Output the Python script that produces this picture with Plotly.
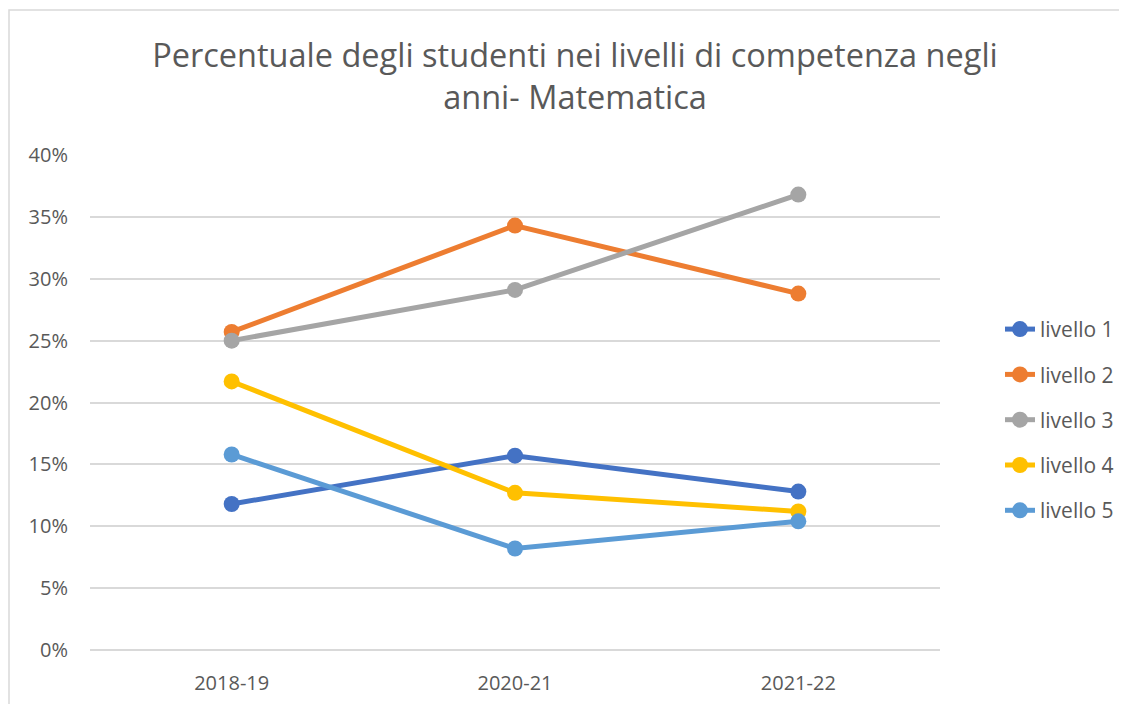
import plotly.graph_objects as go

categories = ["2018-19", "2020-21", "2021-22"]
series_names = ["livello 1", "livello 2", "livello 3", "livello 4", "livello 5"]
livello_1 = [0.118, 0.157, 0.128]
livello_2 = [0.257, 0.343, 0.288]
livello_3 = [0.250, 0.291, 0.368]
livello_4 = [0.217, 0.127, 0.112]
livello_5 = [0.158, 0.082, 0.104]
y_ticks = [0, 0.05, 0.10, 0.15, 0.20, 0.25, 0.30, 0.35, 0.40]
y_tick_labels = ["0%", "5%", "10%", "15%", "20%", "25%", "30%", "35%", "40%"]
title_text = "Percentuale degli studenti nei livelli di competenza negli<br>anni- Matematica"

series_values = [livello_1, livello_2, livello_3, livello_4, livello_5]
colors = ["#4472C4", "#ED7D31", "#A5A5A5", "#FFC000", "#5B9BD5"]

fig = go.Figure()
for name, vals, col in zip(series_names, series_values, colors):
    fig.add_trace(go.Scatter(
        x=categories, y=vals, name=name, mode="lines+markers",
        legendgroup=name,
        line=dict(color=col, width=5),
        marker=dict(color=col, size=16),
    ))

text_col = "#595959"
grid_col = "#D9D9D9"
fig.update_layout(
    width=1127, height=704,
    margin=dict(l=82, r=195, t=147, b=62),
    paper_bgcolor="white", plot_bgcolor="white",
    font=dict(family="Open Sans", color=text_col, size=20),
    title=dict(text=title_text, x=567/1127, xanchor="center",
               y=1 - 59/704, yanchor="top", yref="container",
               font=dict(family="Open Sans", size=32.5, color=text_col)),
    showlegend=True,
    legend=dict(x=910/850, y=0.689, xanchor="left", yanchor="top",
                font=dict(size=21, color=text_col), tracegroupgap=15,
                bgcolor="rgba(0,0,0,0)"),
    xaxis=dict(range=[-0.5, 2.5], showgrid=False, zeroline=False,
               showline=False, ticks="", ticklabelstandoff=19,
               tickfont=dict(size=20, color=text_col)),
    yaxis=dict(range=[0, 0.40], tickvals=y_ticks, ticktext=y_tick_labels,
               showgrid=True, gridcolor=grid_col, gridwidth=1.5,
               zeroline=True, zerolinecolor=grid_col, zerolinewidth=1.5,
               showline=False, ticks="",
               ticklabelstandoff=21, tickfont=dict(size=20, color=text_col)),
    shapes=[dict(type="rect", xref="paper", yref="paper",
                 x0=(9-90)/850, x1=(1135-90)/850,
                 y0=(650-715)/495, y1=(650-10)/495,
                 line=dict(color=grid_col, width=1.5), layer="below")],
)

fig.write_html("out.html")
